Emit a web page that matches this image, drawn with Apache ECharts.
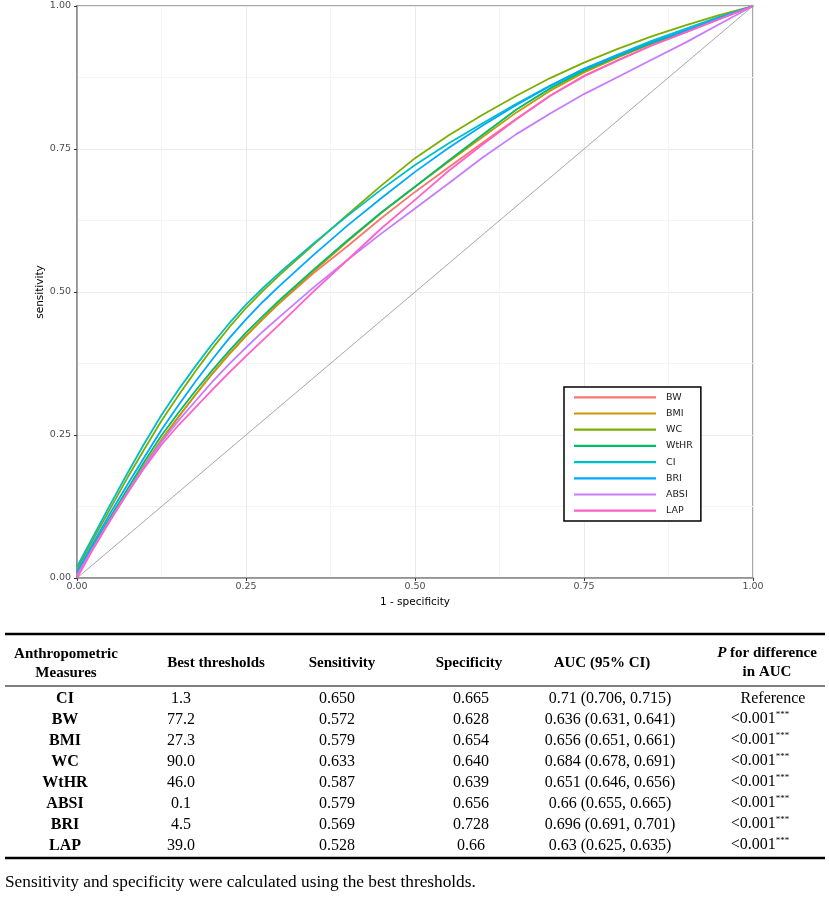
<!DOCTYPE html>
<html>
<head>
<meta charset="utf-8">
<script src="https://cdn.jsdelivr.net/npm/echarts@6/dist/echarts.min.js"></script>
<style>
  html, body { margin: 0; padding: 0; background: #fff; }
  #chart { width: 829px; height: 922px; }
</style>
</head>
<body>
<div id="chart"></div>
<script>
// ROC curves: false positive rate grid and sensitivity
const fprGrid = [0, 0.025, 0.05, 0.075, 0.1, 0.125, 0.15, 0.175, 0.2, 0.225, 0.25, 0.275, 0.3, 0.35, 0.4, 0.45, 0.5, 0.55, 0.6, 0.65, 0.7, 0.75, 0.8, 0.85, 0.9, 0.95, 1];

const tprBW   = [0.008, 0.055, 0.103, 0.150, 0.197, 0.241, 0.281, 0.320, 0.357, 0.392, 0.424, 0.453, 0.481, 0.533, 0.580, 0.629, 0.675, 0.718, 0.761, 0.803, 0.843, 0.878, 0.905, 0.931, 0.954, 0.977, 1];
const tprBMI  = [0.005, 0.055, 0.104, 0.151, 0.198, 0.242, 0.282, 0.320, 0.357, 0.391, 0.423, 0.453, 0.482, 0.536, 0.588, 0.638, 0.684, 0.728, 0.771, 0.814, 0.852, 0.884, 0.910, 0.934, 0.955, 0.978, 1];
const tprWC   = [0.015, 0.070, 0.123, 0.176, 0.226, 0.275, 0.319, 0.361, 0.401, 0.438, 0.472, 0.502, 0.530, 0.583, 0.635, 0.686, 0.734, 0.774, 0.810, 0.843, 0.874, 0.901, 0.925, 0.947, 0.966, 0.984, 1];
const tprWtHR = [0.008, 0.058, 0.108, 0.156, 0.204, 0.249, 0.289, 0.327, 0.363, 0.397, 0.429, 0.458, 0.486, 0.539, 0.590, 0.639, 0.684, 0.730, 0.775, 0.819, 0.856, 0.887, 0.912, 0.935, 0.956, 0.978, 1];
const tprCI   = [0.020, 0.075, 0.130, 0.184, 0.236, 0.285, 0.329, 0.370, 0.409, 0.445, 0.478, 0.507, 0.534, 0.585, 0.633, 0.679, 0.722, 0.760, 0.795, 0.829, 0.861, 0.890, 0.915, 0.939, 0.960, 0.981, 1];
const tprBRI  = [0.010, 0.063, 0.115, 0.164, 0.212, 0.259, 0.302, 0.343, 0.382, 0.419, 0.452, 0.483, 0.511, 0.565, 0.616, 0.664, 0.710, 0.752, 0.791, 0.827, 0.860, 0.890, 0.914, 0.937, 0.957, 0.979, 1];
const tprABSI = [0.005, 0.055, 0.104, 0.151, 0.196, 0.238, 0.275, 0.309, 0.343, 0.374, 0.403, 0.431, 0.457, 0.508, 0.556, 0.602, 0.646, 0.690, 0.735, 0.776, 0.812, 0.846, 0.876, 0.906, 0.936, 0.968, 1];
const tprLAP  = [0.000, 0.053, 0.102, 0.149, 0.193, 0.233, 0.267, 0.298, 0.329, 0.359, 0.388, 0.416, 0.444, 0.501, 0.556, 0.611, 0.661, 0.712, 0.758, 0.802, 0.843, 0.877, 0.905, 0.931, 0.954, 0.977, 1];

const measureNames = ['BW', 'BMI', 'WC', 'WtHR', 'CI', 'BRI', 'ABSI', 'LAP'];
const measureTpr = [tprBW, tprBMI, tprWC, tprWtHR, tprCI, tprBRI, tprABSI, tprLAP];
const measureColors = ['#F8766D', '#CD9600', '#7CAE00', '#00BE67', '#00BFC4', '#00A9FF', '#C77CFF', '#FF61CC'];

const axisTicks = [0, 0.25, 0.5, 0.75, 1];

// table below the plot
const tableMeasures   = ['CI', 'BW', 'BMI', 'WC', 'WtHR', 'ABSI', 'BRI', 'LAP'];
const tableThresholds = ['1.3', '77.2', '27.3', '90.0', '46.0', '0.1', '4.5', '39.0'];
const tableSens       = ['0.650', '0.572', '0.579', '0.633', '0.587', '0.579', '0.569', '0.528'];
const tableSpec       = ['0.665', '0.628', '0.654', '0.640', '0.639', '0.656', '0.728', '0.66'];
const tableAuc        = ['0.71 (0.706, 0.715)', '0.636 (0.631, 0.641)', '0.656 (0.651, 0.661)', '0.684 (0.678, 0.691)',
                         '0.651 (0.646, 0.656)', '0.66 (0.655, 0.665)', '0.696 (0.691, 0.701)', '0.63 (0.625, 0.635)'];
const tablePdiff      = ['Reference', '<0.001', '<0.001', '<0.001', '<0.001', '<0.001', '<0.001', '<0.001'];
const footnote = 'Sensitivity and specificity were calculated using the best thresholds.';

const chart = echarts.init(document.getElementById('chart'));

const sansFont = 'DejaVu Sans';
const serifFont = 'Liberation Serif';

// ---- table graphics ----
const colX = { label: 65, thr: 181, sens: 337, spec: 471, auc: 610, p: 760 };
const headX = { label: 66, thr: 216, sens: 342, spec: 469, auc: 602, p: 767 };
const rowY0 = 699, rowStep = 21;

function txt(x, y, text, opts) {
    return {
        type: 'text', x: x, y: y, silent: true,
        style: Object.assign({
            text: text, fontFamily: serifFont, fontSize: 16, fill: '#000',
            align: 'center', verticalAlign: 'middle'
        }, opts || {})
    };
}
function hline(y, w) {
    return { type: 'line', silent: true, shape: { x1: 5, y1: y, x2: 825, y2: y }, style: { stroke: '#000', lineWidth: w } };
}

const headFont = { fontWeight: 'bold', fontSize: 15 };

const tableGraphics = [
    hline(634, 2.5),
    hline(686, 1),
    hline(858, 2.5),
    txt(headX.label, 654, 'Anthropometric', headFont),
    txt(headX.label, 673, 'Measures', headFont),
    txt(headX.thr, 663, 'Best thresholds', headFont),
    txt(headX.sens, 663, 'Sensitivity', headFont),
    txt(headX.spec, 663, 'Specificity', headFont),
    txt(headX.auc, 663, 'AUC (95% CI)', headFont),
    txt(headX.p, 663, '{i|P}{b| for difference}\n{b|in AUC}', {
        rich: {
            i: { fontFamily: serifFont, fontSize: 15, fontStyle: 'italic', fontWeight: 'bold', lineHeight: 19 },
            b: { fontFamily: serifFont, fontSize: 15, fontWeight: 'bold', lineHeight: 19 }
        }
    }),
    txt(5, 882, footnote, { align: 'left', fontSize: 17.3 })
];

tableMeasures.forEach((m, i) => {
    const y = rowY0 + i * rowStep;
    tableGraphics.push(txt(colX.label, y, m, { fontWeight: 'bold' }));
    tableGraphics.push(txt(colX.thr, y, tableThresholds[i]));
    tableGraphics.push(txt(colX.sens, y, tableSens[i]));
    tableGraphics.push(txt(colX.spec, y, tableSpec[i]));
    tableGraphics.push(txt(colX.auc, y, tableAuc[i]));
    if (tablePdiff[i] === 'Reference') {
        tableGraphics.push(txt(773, y, tablePdiff[i]));
    } else {
        tableGraphics.push(txt(colX.p, y - 1, '{n|' + tablePdiff[i] + '}{s|***}', {
            rich: {
                n: { fontFamily: serifFont, fontSize: 16, lineHeight: 18 },
                s: { fontFamily: serifFont, fontSize: 9, lineHeight: 10, verticalAlign: 'top' }
            }
        }));
    }
});

// ---- ROC series ----
const rocSeries = measureNames.map((name, k) => ({
    name: name,
    type: 'line',
    data: fprGrid.map((f, i) => [f, measureTpr[k][i]]),
    showSymbol: false,
    smooth: false,
    lineStyle: { color: measureColors[k], width: 1.8, join: 'round' },
    itemStyle: { color: measureColors[k] },
    z: 3 + k,
    silent: true
}));

const option = {
    backgroundColor: '#ffffff',
    animation: false,
    grid: {
        left: 77, top: 6, right: 76, bottom: 344,
        show: true, borderColor: '#8c8c8c', borderWidth: 1.5, backgroundColor: 'transparent'
    },
    legend: {
        orient: 'vertical',
        left: 564, top: 387,
        data: measureNames,
        icon: 'rect',
        itemWidth: 82, itemHeight: 2.2,
        itemGap: 3.6,
        padding: [4, 8, 4, 10],
        borderColor: '#000', borderWidth: 1.5,
        backgroundColor: '#fff',
        selectedMode: false,
        textStyle: { fontFamily: sansFont, fontSize: 9.5, color: '#1a1a1a', lineHeight: 12.6, padding: [0, 0, 0, 5] }
    },
    xAxis: {
        type: 'value', min: 0, max: 1, interval: 0.25,
        name: '1 - specificity', nameLocation: 'middle', nameGap: 12,
        nameTextStyle: { fontFamily: sansFont, fontSize: 10.5, color: '#000' },
        axisLine: { show: true, lineStyle: { color: '#8c8c8c', width: 1.5 } },
        axisTick: { show: true, length: 3, lineStyle: { color: '#333' } },
        axisLabel: {
            margin: 4, fontFamily: sansFont, fontSize: 9.5, color: '#4d4d4d',
            formatter: v => axisTicks.indexOf(v) >= 0 ? v.toFixed(2) : ''
        },
        splitLine: { show: true, lineStyle: { color: '#ebebeb', width: 1 } },
        minorTick: { show: true, splitNumber: 2, length: 0 },
        minorSplitLine: { show: true, lineStyle: { color: '#f4f4f4', width: 1 } }
    },
    yAxis: {
        type: 'value', min: 0, max: 1, interval: 0.25,
        name: 'sensitivity', nameLocation: 'middle', nameGap: 31, nameRotate: 90,
        nameMoveOverlap: false,
        nameTextStyle: { fontFamily: sansFont, fontSize: 10.5, color: '#000' },
        axisLine: { show: true, lineStyle: { color: '#8c8c8c', width: 1.5 } },
        axisTick: { show: true, length: 3, lineStyle: { color: '#333' } },
        axisLabel: {
            margin: 6, fontFamily: sansFont, fontSize: 9.5, color: '#4d4d4d',
            formatter: v => axisTicks.indexOf(v) >= 0 ? v.toFixed(2) : ''
        },
        splitLine: { show: true, lineStyle: { color: '#ebebeb', width: 1 } },
        minorTick: { show: true, splitNumber: 2, length: 0 },
        minorSplitLine: { show: true, lineStyle: { color: '#f4f4f4', width: 1 } }
    },
    series: [
        {
            name: 'reference',
            type: 'line',
            data: [[0, 0], [1, 1]],
            showSymbol: false,
            silent: true,
            lineStyle: { color: '#a6a6a6', width: 1 },
            z: 2
        }
    ].concat(rocSeries),
    graphic: tableGraphics
};

chart.setOption(option);
</script>
</body>
</html>
